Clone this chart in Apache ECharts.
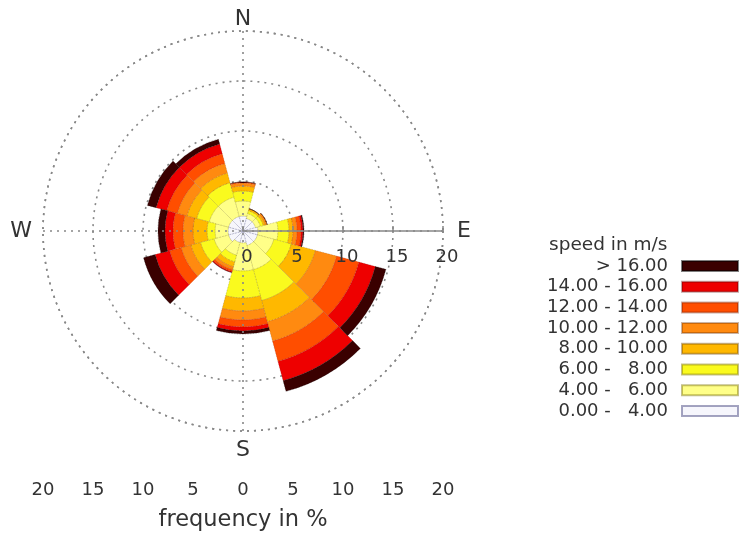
<!DOCTYPE html>
<html>
<head>
<meta charset="utf-8">
<script src="https://cdn.jsdelivr.net/npm/echarts@6/dist/echarts.min.js"></script>
<style>html,body{margin:0;padding:0;background:#fff}#c{width:742px;height:534px}</style>
</head>
<body>
<div id="c"></div>
<script>
// wind directions (sector centres, degrees from north)
var directions = ['0', '30', '60', '90', '120', '150', '180', '210', '240', '270', '300', '330'];
// frequency (%) per speed class and direction
var s0_4   = [1.5, 1.3, 1.3, 1.5, 1.5, 1.5, 1.2, 1.2, 1.5, 1.5, 1.5, 1.5];
var s4_6   = [1.5, 0.5, 0.5, 2.0, 1.7, 2.5, 2.8, 1.3, 1.5, 1.3, 2.0, 2.0];
var s6_8   = [1.0, 0.3, 0.3, 1.1, 1.8, 3.2, 2.7, 0.7, 1.4, 0.8, 1.3, 1.5];
var s8_10  = [0.5, 0.2, 0.2, 0.4, 2.5, 2.2, 1.3, 0.5, 1.0, 1.4, 1.0, 1.0];
var s10_12 = [0.3, 0.0, 0.2, 0.4, 2.2, 2.0, 0.9, 0.3, 1.0, 1.0, 1.0, 1.0];
var s12_14 = [0.1, 0.0, 0.0, 0.4, 2.3, 2.1, 0.7, 0.2, 1.2, 1.0, 1.1, 1.0];
var s14_16 = [0.0, 0.0, 0.0, 0.2, 1.7, 2.0, 0.4, 0.1, 1.5, 0.8, 1.1, 1.0];
var s16    = [0.0, 0.0, 0.0, 0.1, 1.1, 1.1, 0.3, 0.0, 1.2, 0.7, 0.9, 0.5];
var classNames = ['0.00 -   4.00', '4.00 -   6.00', '6.00 -   8.00', '8.00 - 10.00',
                  '10.00 - 12.00', '12.00 - 14.00', '14.00 - 16.00', '> 16.00'];
var classData = [s0_4, s4_6, s6_8, s8_10, s10_12, s12_14, s14_16, s16];
var classColors = ['#f6f6fc', '#ffff88', '#fafa1e', '#ffb800', '#ff8a10', '#ff4e00', '#ee0000', '#3a0000'];
var classBorders = ['rgba(90,90,140,0.55)', 'rgba(120,110,0,0.45)', 'rgba(120,110,0,0.45)', 'rgba(100,60,0,0.4)',
                    'rgba(100,40,0,0.35)', 'rgba(100,20,0,0.35)', 'rgba(80,0,0,0.35)', 'rgba(0,0,0,0.5)'];
var radiusTicks = [0, 5, 10, 15, 20];
var compass = {0: '{e|E}', 90: '{s|S}', 180: '{w|W}', 270: '{n|N}'};

var FONT = 'DejaVu Sans';
var TXT = '#333';
var chart = echarts.init(document.getElementById('c'), null, {renderer: 'canvas'});

var series = classData.map(function (d, i) {
  return {
    type: 'bar', name: classNames[i], coordinateSystem: 'polar', polarIndex: 0,
    stack: 'rose', barCategoryGap: '0%', data: d, z: 3,
    itemStyle: {color: classColors[i], borderColor: classBorders[i], borderWidth: 0.8, borderType: 'dotted'}
  };
});
series.push({type: 'scatter', xAxisIndex: 0, yAxisIndex: 0, data: []});

var cstyle = {fontFamily: FONT, fontSize: 22, color: TXT};
chart.setOption({
  animation: false,
  backgroundColor: '#fff',
  title: {text: 'speed in m/s', left: 549, top: 236, padding: 0,
    textStyle: {fontFamily: FONT, fontSize: 18.5, fontWeight: 'normal', color: TXT}},
  legend: {
    orient: 'vertical', right: 3, top: 257, align: 'right', padding: 0,
    itemWidth: 56, itemHeight: 10, itemGap: 2.7, icon: 'rect',
    data: classNames.slice().reverse(),
    formatter: function (n) { return '{t|' + n + '}'; },
    textStyle: {fontFamily: FONT, fontSize: 18, color: TXT, lineHeight: 18,
      rich: {t: {fontFamily: FONT, fontSize: 18, color: TXT, lineHeight: 18, padding: [0, 9, 0, 0]}}}
  },
  polar: [
    {center: [243, 231], radius: [0, 200]},
    {center: [243, 231], radius: [0, 200]},
    {center: [243, 231], radius: [0, 200]}
  ],
  angleAxis: [
    {polarIndex: 0, type: 'category', data: directions, startAngle: 105, clockwise: true,
      boundaryGap: true, axisLine: {show: false}, axisTick: {show: false},
      axisLabel: {show: false}, splitLine: {show: false}, splitArea: {show: false}},
    {polarIndex: 1, type: 'value', min: 0, max: 360, interval: 90, startAngle: 0, clockwise: true,
      axisLine: {show: true, lineStyle: {color: '#888', type: [2, 5], width: 1.6}},
      axisTick: {show: false}, axisLabel: {show: false}, splitLine: {show: false}, z: 0},
    {polarIndex: 2, type: 'value', min: 0, max: 360, interval: 90, startAngle: 0, clockwise: true,
      axisLine: {show: false}, axisTick: {show: false},
      axisLabel: {show: true, margin: 1, fontFamily: FONT, fontSize: 22, color: TXT,
        formatter: function (v) { return compass[v] || ''; },
        rich: {
          n: cstyle,
          e: Object.assign({padding: [0, 0, 0, 13]}, cstyle),
          s: Object.assign({padding: [7, 0, 0, 0]}, cstyle),
          w: Object.assign({padding: [0, 10, 0, 0]}, cstyle)
        }},
      splitLine: {show: true, lineStyle: {color: '#888', type: [2, 5], width: 1.6}}, z: 5}
  ],
  radiusAxis: [
    {polarIndex: 0, min: 0, max: 20, axisLine: {show: false}, axisTick: {show: false},
      axisLabel: {show: false}, splitLine: {show: false}},
    {polarIndex: 1, min: 0, max: 20, interval: 5, axisLine: {show: false}, axisTick: {show: false},
      axisLabel: {show: false}, splitLine: {show: true, lineStyle: {color: '#888', type: [2, 5], width: 1.6}}, z: 0},
    {polarIndex: 2, min: 0, max: 20, interval: 5,
      axisLine: {show: true, lineStyle: {color: '#888', width: 1.5}},
      axisTick: {show: true, length: 5, lineStyle: {color: '#888', width: 1.5}},
      axisLabel: {show: true, margin: -35, fontFamily: FONT, fontSize: 18, color: TXT,
        formatter: function (v) { return '{p|' + v + '}'; },
        rich: {p: {fontFamily: FONT, fontSize: 18, color: TXT, padding: [0, 0, 0, 8]}}},
      splitLine: {show: false}, z: 5}
  ],
  grid: {left: 43, width: 400, top: 471, height: 1},
  xAxis: {type: 'value', min: -20, max: 20, interval: 5,
    axisLine: {show: false}, axisTick: {show: false}, splitLine: {show: false},
    axisLabel: {margin: 9, fontFamily: FONT, fontSize: 18, color: TXT,
      formatter: function (v) { return String(Math.abs(v)); }},
    name: 'frequency in %', nameLocation: 'middle', nameGap: 37,
    nameTextStyle: {fontFamily: FONT, fontSize: 22.5, color: TXT}},
  yAxis: {type: 'value', show: false},
  series: series
});
</script>
</body>
</html>
